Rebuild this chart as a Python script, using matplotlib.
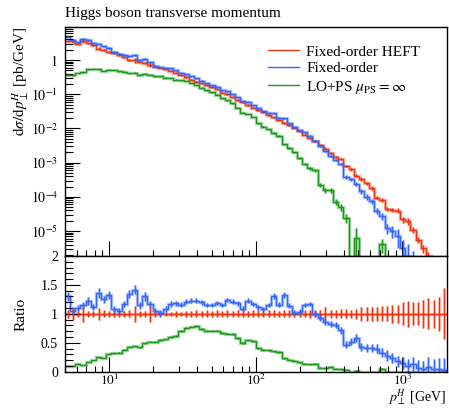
import numpy as np
import matplotlib
matplotlib.use("Agg")
import matplotlib.pyplot as plt
from matplotlib.axes import Axes
from matplotlib.ticker import FixedLocator, LogLocator, MultipleLocator, NullFormatter

plt.rcParams["font.family"] = ["Liberation Serif", "DejaVu Serif"]
plt.rcParams["mathtext.fontset"] = "stix"

#--- Data
pt_min, pt_max, n_bins = 5.0, 2000.0, 74
edges = np.logspace(np.log10(pt_min), np.log10(pt_max), n_bins + 1)
centers = np.sqrt(edges[:-1] * edges[1:])

# Fixed-order HEFT, log10 of dsigma/dpT [pb/GeV]
heft_log10 = [
    0.57, 0.55, 0.48, 0.56, 0.50, 0.44, 0.33, 0.30, 0.23, 0.20,
    0.15, 0.08, -0.01, -0.01, -0.05, -0.09, -0.14, -0.19, -0.22, -0.26,
    -0.31, -0.37, -0.44, -0.50, -0.57, -0.63, -0.68, -0.74, -0.80, -0.86,
    -0.95, -1.00, -1.08, -1.16, -1.24, -1.31, -1.39, -1.46, -1.53, -1.60,
    -1.68, -1.75, -1.83, -1.90, -1.98, -2.07, -2.18, -2.28, -2.36, -2.49,
    -2.59, -2.71, -2.84, -2.90, -3.10, -3.20, -3.38, -3.47, -3.61, -3.74,
    -4.02, -4.08, -4.36, -4.38, -4.40, -4.66, -4.72, -4.97, -5.26, -5.51,
    -5.73, -5.95, -6.15, -6.35,
]
heft_err = [
    0.07, 0.10, 0.05, 0.14, 0.05, 0.05, 0.10, 0.06, 0.05, 0.06,
    0.05, 0.05, 0.06, 0.14, 0.05, 0.05, 0.14, 0.05, 0.05, 0.04,
    0.04, 0.05, 0.04, 0.05, 0.05, 0.06, 0.05, 0.06, 0.05, 0.06,
    0.05, 0.06, 0.05, 0.06, 0.06, 0.05, 0.06, 0.06, 0.05, 0.06,
    0.06, 0.05, 0.06, 0.06, 0.05, 0.06, 0.06, 0.07, 0.06, 0.07,
    0.11, 0.07, 0.07, 0.08, 0.08, 0.07, 0.09, 0.12, 0.12, 0.12,
    0.12, 0.13, 0.13, 0.15, 0.16, 0.20, 0.22, 0.20, 0.20, 0.24,
    0.27, 0.24, 0.29, 0.44,
]

# Fixed-order (full theory), ratio to HEFT
fo_ratio = [
    1.30, 1.05, 1.10, 1.15, 1.22, 1.12, 1.36, 1.25, 1.32, 1.08,
    1.05, 1.17, 1.35, 1.42, 1.15, 1.30, 1.17, 1.05, 1.01, 1.08,
    1.17, 1.18, 1.16, 1.21, 1.23, 1.23, 1.20, 1.15, 1.15, 1.19,
    1.15, 1.24, 1.21, 1.18, 1.09, 1.23, 1.17, 1.11, 1.08, 1.15,
    1.31, 1.16, 1.33, 1.14, 1.02, 1.04, 1.15, 1.17, 1.00, 0.93,
    0.86, 0.82, 0.81, 0.72, 0.47, 0.52, 0.58, 0.43, 0.41, 0.41,
    0.40, 0.33, 0.28, 0.24, 0.18, 0.15, 0.10, 0.13, 0.06, 0.04,
    0.08, 0.04, 0.04, 0.03,
]
fo_err = [
    0.07, 0.06, 0.05, 0.06, 0.07, 0.05, 0.08, 0.06, 0.07, 0.05,
    0.05, 0.06, 0.07, 0.08, 0.06, 0.07, 0.06, 0.05, 0.05, 0.05,
    0.05, 0.04, 0.04, 0.04, 0.04, 0.04, 0.04, 0.04, 0.04, 0.04,
    0.04, 0.04, 0.04, 0.04, 0.04, 0.04, 0.04, 0.04, 0.04, 0.04,
    0.05, 0.04, 0.05, 0.04, 0.04, 0.04, 0.04, 0.04, 0.05, 0.05,
    0.05, 0.05, 0.05, 0.06, 0.06, 0.06, 0.07, 0.07, 0.07, 0.07,
    0.08, 0.08, 0.09, 0.09, 0.10, 0.10, 0.12, 0.12, 0.15, 0.15,
    0.18, 0.18, 0.20, 0.20,
]

# LO+PS, ratio to HEFT
ps_ratio = [
    0.10, 0.10, 0.14, 0.12, 0.17, 0.20, 0.25, 0.24, 0.31, 0.32,
    0.33, 0.38, 0.43, 0.44, 0.42, 0.49, 0.52, 0.52, 0.55, 0.56,
    0.60, 0.62, 0.70, 0.76, 0.78, 0.79, 0.74, 0.71, 0.71, 0.71,
    0.67, 0.66, 0.65, 0.58, 0.50, 0.54, 0.53, 0.41, 0.38, 0.38,
    0.35, 0.34, 0.23, 0.21, 0.19, 0.16, 0.14, 0.13, 0.14, 0.07,
    0.06, 0.08, 0.05, 0.04, 0.03, 0.0, 0.015, 0.0, 0.0, 0.0,
    0.0, 0.05, 0.0, 0.0, 0.0, 0.0, 0.0, 0.0, 0.0, 0.0,
    0.0, 0.0, 0.0, 0.0,
]
ps_err = [
    0.02, 0.02, 0.02, 0.02, 0.02, 0.02, 0.02, 0.02, 0.02, 0.02,
    0.02, 0.02, 0.02, 0.02, 0.02, 0.02, 0.02, 0.02, 0.02, 0.02,
    0.02, 0.02, 0.02, 0.02, 0.02, 0.02, 0.02, 0.02, 0.02, 0.02,
    0.02, 0.02, 0.03, 0.03, 0.03, 0.03, 0.03, 0.03, 0.03, 0.04,
    0.04, 0.05, 0.05, 0.06, 0.06, 0.07, 0.08, 0.08, 0.10, 0.12,
    0.14, 0.15, 0.20, 0.25, 0.30, 0.0, 0.90, 0.0, 0.0, 0.0,
    0.0, 0.45, 0.0, 0.0, 0.0, 0.0, 0.0, 0.0, 0.0, 0.0,
    0.0, 0.0, 0.0, 0.0,
]

heft = 10.0 ** np.array(heft_log10)
fo = heft * np.array(fo_ratio)
ps = heft * np.array(ps_ratio)

RED = "#ee3311"
BLUE = "#3366ff"
GREEN = "#1a9a1a"


def drawHisto(ax: Axes, values, rel_err, color, label=None):
    values = np.asarray(values)
    err = values * np.asarray(rel_err)
    # pale shadow + line
    ax.stairs(values, edges, baseline=None, color=color, lw=2.4, alpha=0.35)
    ax.stairs(values, edges, baseline=None, color=color, lw=1.0, label=label)
    ax.vlines(centers, values - err, values + err, color=color, lw=1.8, alpha=0.45)
    ax.vlines(centers, values - err, values + err, color=color, lw=0.8)


#--- Figure
fig = plt.figure(figsize=(4.49, 4.08), dpi=100)
W, H = 449.0, 408.0
x0, x1 = 65 / W, 446.5 / W
ax = fig.add_axes([x0, 1 - 256 / H, x1 - x0, 229 / H])
axr = fig.add_axes([x0, 1 - 371.7 / H, x1 - x0, 115.7 / H], sharex=ax)

# main panel
drawHisto(ax, heft, heft_err, RED, "Fixed-order HEFT")
drawHisto(ax, fo, np.array(fo_err) / np.array(fo_ratio), BLUE, "Fixed-order")
drawHisto(ax, ps, ps_err, GREEN, r"LO+PS $\mu_{\rm PS} = \infty$")

ax.set_xscale("log")
ax.set_yscale("log")
ax.set_xlim(pt_min, pt_max)
ax.set_ylim(10 ** -5.73, 10 ** 0.965)
ax.yaxis.set_major_locator(FixedLocator([1e-5, 1e-4, 1e-3, 1e-2, 1e-1, 1]))
ax.set_yticklabels([r"$10^{-5}$", r"$10^{-4}$", r"$10^{-3}$", r"$10^{-2}$", r"$10^{-1}$", r"$1$"])
ax.yaxis.set_minor_locator(LogLocator(base=10, subs=np.arange(2, 10), numticks=30))
ax.yaxis.set_minor_formatter(NullFormatter())
ax.tick_params(axis="x", labelbottom=False)

ax.legend(loc="upper left", bbox_to_anchor=(268 / W, 1 - 45 / H), bbox_transform=fig.transFigure,
          frameon=False, fontsize=11, handlelength=2.0, handletextpad=0.5,
          labelspacing=0.2, borderpad=0, borderaxespad=0)

# ratio panel
ones = np.ones(n_bins)
drawHisto(axr, ones, heft_err, RED)
drawHisto(axr, fo_ratio, np.array(fo_err) / np.array(fo_ratio), BLUE)
drawHisto(axr, ps_ratio, ps_err, GREEN)
axr.set_ylim(0, 2)
axr.yaxis.set_major_locator(FixedLocator([0, 0.5, 1, 1.5, 2]))
axr.set_yticklabels(["0", "0.5", "1", "1.5", "2"])
axr.yaxis.set_minor_locator(MultipleLocator(0.1))
axr.xaxis.set_major_locator(FixedLocator([10, 100, 1000]))
axr.set_xticklabels([r"$10^{1}$", r"$10^{2}$", r"$10^{3}$"])
axr.xaxis.set_minor_locator(LogLocator(base=10, subs=np.arange(2, 10), numticks=30))
axr.xaxis.set_minor_formatter(NullFormatter())

for a in (ax, axr):
    a.tick_params(which="both", direction="in", top=False, right=False, labelsize=10, width=0.8)
    a.tick_params(axis="y", which="major", length=11, pad=5)
    a.tick_params(axis="y", which="minor", length=5.5)
    a.tick_params(axis="x", which="major", length=11, pad=1, labelsize=9.5)
    a.tick_params(axis="x", which="minor", length=4.5)
    for s in a.spines.values():
        s.set_linewidth(1.0)

#--- Texts
fig.text(65 / W, 1 - 13 / H, "Higgs boson transverse momentum", ha="left", va="center", fontsize=11)
fig.text(21 / W, 1 - 27 / H, r"$\mathrm{d}\sigma/\mathrm{d}p_\perp^H$ [pb/GeV]", rotation=90,
         ha="center", va="top", fontsize=11)
fig.text(21 / W, 1 - 314 / H, "Ratio", rotation=90, ha="center", va="center", fontsize=11)
fig.text(446 / W, 1 - 407.5 / H, r"$p_\perp^H$ [GeV]", ha="right", va="bottom", fontsize=10)

fig.savefig("out.png", dpi=100)
